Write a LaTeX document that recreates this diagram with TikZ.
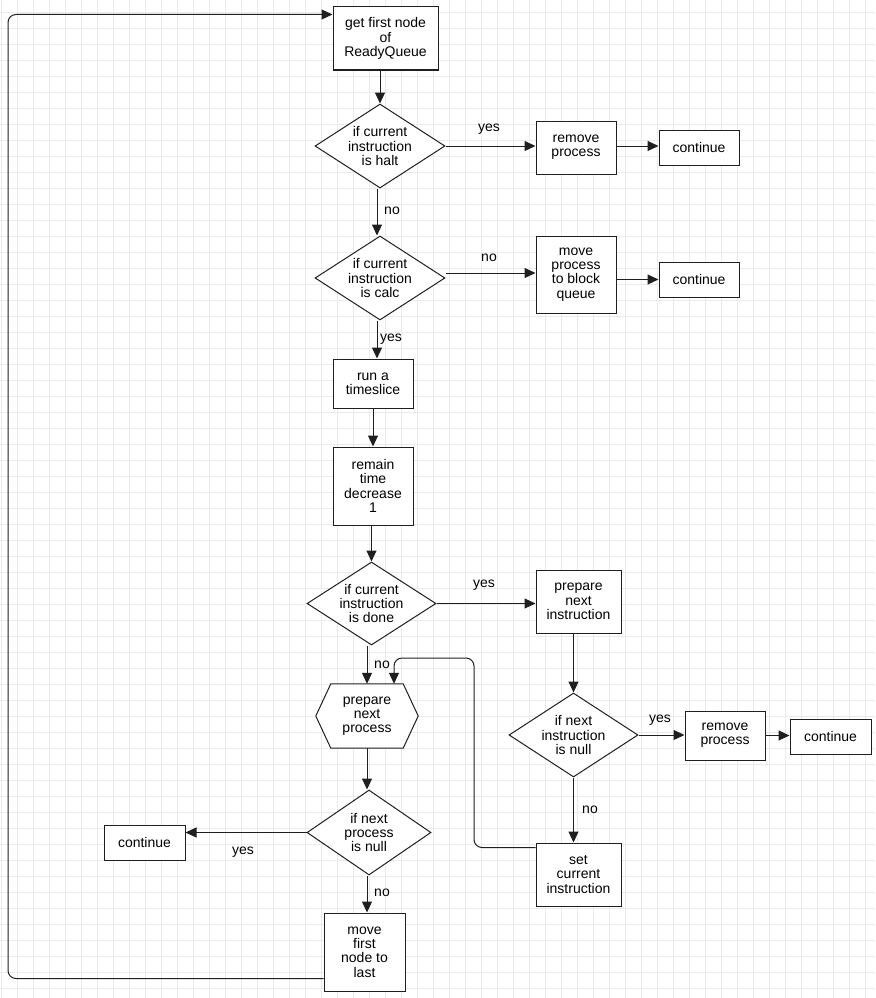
\documentclass[tikz,border=0pt]{standalone}
\usepackage{fontspec}
\setmainfont{Liberation Sans}
\usepackage{tikz}
\usetikzlibrary{arrows.meta}
\usetikzlibrary{shapes.geometric}
\definecolor{linha}{gray}{0.12}
\definecolor{grade}{gray}{0.92}
\newcommand{\fonte}{\fontsize{14}{14.3}\selectfont}
\tikzset{
  caixa/.style={draw=linha, line width=1pt, fill=white, align=center, inner sep=0pt, minimum width=#1, font=\fonte},
  caixa/.default=80pt,
  losango/.style={diamond, aspect=1.55, draw=linha, line width=1pt, fill=white, align=center, inner sep=0pt, font=\fonte},
  rotulo/.style={font=\fonte, inner sep=0pt},
  seta/.style={-{Triangle[length=11pt,width=10pt]}, draw=linha, line width=1pt},
  gradeado/.style={draw=grade, line width=0.9pt},
}

\begin{document}
\begin{tikzpicture}[x=1pt, y=-1pt]
  \useasboundingbox (0,0) rectangle (875,998);
  % grade de fundo
  \foreach \k in {0,...,54} \draw[gradeado] ({1.3+16*\k},0) -- ({1.3+16*\k},998);
  \foreach \k in {0,...,61} \draw[gradeado] (0,{12.7+16*\k}) -- (875,{12.7+16*\k});

  % coluna principal
  \node[caixa=105pt, minimum height=63pt] (gf) at (385.5,38.5) {get first node\\of\\ReadyQueue};
  \node[losango, minimum width=130pt, minimum height=84pt] (d1) at (380,146) {if current\\instruction\\is halt};
  \node[caixa, minimum height=53pt] (rp1) at (576,147.5) {remove\\process};
  \node[caixa, minimum height=35pt] (ct1) at (699,147.5) {continue};
  \node[losango, minimum width=130pt, minimum height=84pt] (d2) at (380,278) {if current\\instruction\\is calc};
  \node[caixa, minimum height=77pt] (mv) at (576,274.5) {move\\process\\to block\\queue};
  \node[caixa, minimum height=35pt] (ct2) at (699,279.5) {continue};
  \node[caixa, minimum height=49pt] (rt) at (373,383.5) {run a\\timeslice};
  \node[caixa, minimum height=78pt] (rm) at (373,486) {remain\\time\\decrease\\1};
  \node[losango, minimum width=129pt, minimum height=83pt] (d3) at (371.5,603.5) {if current\\instruction\\is done};

  % ramo da direita
  \node[caixa=85pt, minimum height=63pt] (pi) at (578.5,601.5) {prepare\\next\\instruction};
  \node[losango, minimum width=129pt, minimum height=84pt] (d4) at (573.5,735) {if next\\instruction\\is null};
  \node[caixa, minimum height=49pt] (rp2) at (725,735.5) {remove\\process};
  \node[caixa=81pt, minimum height=35pt] (ct3) at (830.5,736.5) {continue};
  \node[caixa=85pt, minimum height=63pt] (sc) at (578.5,874.5) {set\\current\\instruction};

  % ramo de baixo
  \node[inner sep=0pt, minimum width=102pt, minimum height=64pt] (hx) at (367,716) {};
  \node[losango, minimum width=124pt, minimum height=85pt] (d5) at (369,832.5) {if next\\process\\is null};
  \node[caixa=81pt, minimum height=35pt] (ct4) at (144.5,842.5) {continue};
  \node[caixa=81pt, minimum height=78pt] (mf) at (364.5,952) {move\\first\\node to\\last};

  % hexagono
  \draw[draw=linha, line width=1pt, fill=white] (hx.west) -- ([xshift=15pt]hx.north west) -- ([xshift=-15pt]hx.north east) -- (hx.east) -- ([xshift=-15pt]hx.south east) -- ([xshift=15pt]hx.south west) -- cycle;
  \node[font=\fonte, align=center, inner sep=0pt] (hxt) at (hx.center) {prepare\\next\\process};

  % rotulos
  \node[rotulo] (l1) at (489,129) {yes};
  \node[rotulo] (l2) at (392,211) {no};
  \node[rotulo] (l3) at (489,258) {no};
  \node[rotulo] (l4) at (391,339) {yes};
  \node[rotulo] (l5) at (484,585) {yes};
  \node[rotulo] (l6) at (382,665) {no};
  \node[rotulo] (l7) at (660,720) {yes};
  \node[rotulo] (l8) at (590,810) {no};
  \node[rotulo] (l9) at (243,852) {yes};
  \node[rotulo] (l10) at (382,893) {no};

  \coordinate (jn) at (474,658);
  \coordinate (lft) at (8,500);

  % setas
  \draw[seta] (d1.north |- gf.south) -- (d1.north);
  \draw[seta] (d1.east) -- (d1.east -| rp1.west);
  \draw[seta] (d1.east -| rp1.east) -- (d1.east -| ct1.west);
  \draw[seta] ([xshift=-3pt]d1.south) -- ([xshift=-3pt]d1.south |- d2.north);
  \draw[seta] ([yshift=5pt]d2.east) -- ([yshift=5pt]d2.east -| mv.west);
  \draw[seta] (mv.east |- ct2.west) -- (ct2.west);
  \draw[seta] ([xshift=-3pt]d2.south) -- ([xshift=-3pt]d2.south |- rt.north);
  \draw[seta] (rt.south) -- (rm.north);
  \draw[seta] (d3.north |- rm.south) -- (d3.north);
  \draw[seta] (d3.east) -- (d3.east -| pi.west);
  \draw[seta] (d4.north |- pi.south) -- (d4.north);
  \draw[seta] (d4.east) -- (d4.east -| rp2.west);
  \draw[seta] (rp2.east) -- (rp2.east -| ct3.west);
  \draw[seta] (d4.south) -- (d4.south |- sc.north);
  \draw[seta, rounded corners=8pt] ([yshift=-5pt]sc.north west) -| (jn) -| ([xshift=27pt]hx.north);
  \draw[seta] (hx.north |- d3.south) -- (hx.north);
  \draw[seta] (hx.south) -- (hx.south |- d5.north);
  \draw[seta] (d5.west) -- (d5.west -| ct4.east);
  \draw[seta] ([xshift=-2pt]d5.south) -- ([xshift=-2pt]d5.south |- mf.north);
  \draw[seta, rounded corners=8pt] ([yshift=13pt]mf.south west) -| (lft) |- ([yshift=-8pt]gf.north west);
\end{tikzpicture}
\end{document}
